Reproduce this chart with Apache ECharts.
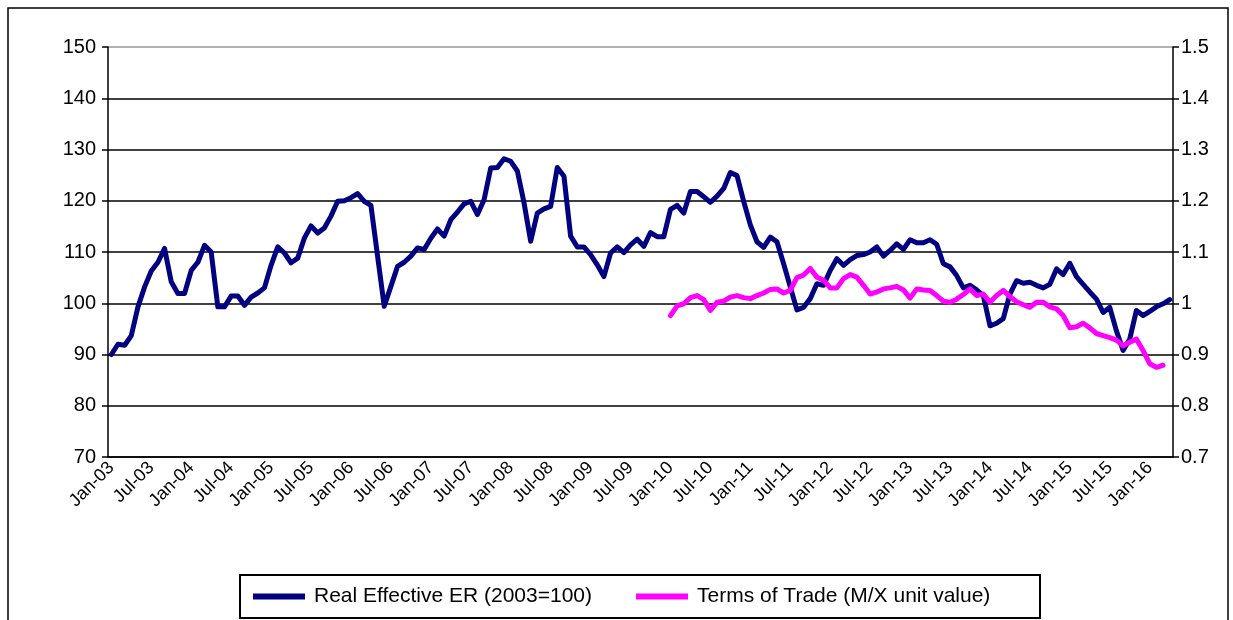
<!DOCTYPE html>
<html>
<head>
<meta charset="utf-8">
<title>REER and Terms of Trade</title>
<script src="https://cdn.jsdelivr.net/npm/echarts@6/dist/echarts.min.js"></script>
<style>
    html, body { margin: 0; padding: 0; background: #fff; }
    #chart { width: 1233px; height: 620px; }
</style>
</head>
<body>
<div id="chart"></div>
<script>
// month labels Jan-03 .. Apr-16
const monthNames = ["Jan", "Feb", "Mar", "Apr", "May", "Jun", "Jul", "Aug", "Sep", "Oct", "Nov", "Dec"];
const categories = [];
for (let y = 3; y <= 16; y++) {
    for (let m = 0; m < 12; m++) {
        if (y === 16 && m > 3) break;
        categories.push(monthNames[m] + "-" + String(y).padStart(2, "0"));
    }
}

// Real Effective ER (2003=100), left axis
const reer = [
    90.0, 92.0, 91.8, 93.7, 99.3, 103.2, 106.3, 108.0, 110.7, 104.2, 101.9, 101.9,
    106.4, 108.0, 111.3, 110.0, 99.3, 99.3, 101.4, 101.4, 99.6, 101.2, 102.0, 103.0,
    107.4, 111.0, 109.8, 107.9, 108.8, 112.7, 115.1, 113.7, 114.7, 117.0, 119.9, 120.0,
    120.6, 121.4, 119.9, 119.1, 109.2, 99.4, 103.3, 107.2, 108.0, 109.2, 110.8, 110.5,
    112.7, 114.5, 113.1, 116.3, 117.8, 119.4, 119.9, 117.3, 120.2, 126.4, 126.5, 128.2,
    127.7, 125.8, 119.6, 112.1, 117.6, 118.4, 118.9, 126.5, 124.8, 113.1, 111.0, 111.0,
    109.5, 107.5, 105.2, 109.8, 111.0, 109.9, 111.4, 112.5, 111.1, 113.8, 113.0, 113.0,
    118.3, 119.1, 117.6, 121.8, 121.8, 120.8, 119.7, 120.9, 122.4, 125.5, 124.9, 119.9,
    115.3, 112.0, 110.9, 112.9, 112.0, 107.7, 103.2, 98.7, 99.2, 100.9, 103.8, 103.5,
    106.4, 108.7, 107.4, 108.5, 109.3, 109.5, 110.0, 111.0, 109.2, 110.3, 111.6, 110.5,
    112.4, 111.8, 111.8, 112.4, 111.5, 107.7, 107.1, 105.4, 103.0, 103.5, 102.6, 101.5,
    95.6, 96.1, 97.0, 101.8, 104.4, 103.9, 104.1, 103.5, 103.0, 103.7, 106.7, 105.6,
    107.8, 105.2, 103.7, 102.2, 100.8, 98.2, 99.2, 94.6, 90.8, 93.0, 98.6, 97.6,
    98.4, 99.3, 99.9, 100.7
];

// Terms of Trade (M/X unit value), right axis, Jan-10 .. Mar-16
const totStart = "Jan-10";
const totValues = [
    0.976, 0.995, 0.999, 1.011, 1.015, 1.007, 0.986, 1.002, 1.004, 1.012, 1.015, 1.011,
    1.009, 1.015, 1.020, 1.027, 1.028, 1.020, 1.025, 1.050, 1.055, 1.068, 1.051, 1.045,
    1.030, 1.030, 1.048, 1.056, 1.051, 1.035, 1.018, 1.022, 1.028, 1.030, 1.033, 1.026,
    1.010, 1.028, 1.026, 1.025, 1.015, 1.004, 1.002, 1.008, 1.017, 1.028, 1.015, 1.018,
    1.002, 1.015, 1.025, 1.013, 1.003, 0.997, 0.992, 1.002, 1.002, 0.993, 0.989, 0.976,
    0.952, 0.954, 0.961, 0.952, 0.941, 0.937, 0.933, 0.928, 0.917, 0.924, 0.930, 0.908,
    0.882, 0.875, 0.879
];
const totOffset = categories.indexOf(totStart);
const tot = categories.map((c, i) => {
    const k = i - totOffset;
    return k >= 0 && k < totValues.length ? totValues[k] : null;
});

const fontFam = "'Liberation Sans', Arial, sans-serif";

let myCharts = echarts.init(document.getElementById("chart"));
myCharts.setOption({
    animation: false,
    backgroundColor: "#fff",
    textStyle: { fontFamily: fontFam },
    grid: {
        left: 108,
        right: 60,
        top: 47,
        bottom: 163,
    },
    graphic: [
        // 外框
        {
            type: "rect",
            shape: { x: 8, y: 8, width: 1220, height: 700 },
            style: { fill: "none", stroke: "#000", lineWidth: 1.5 },
            silent: true,
        },
        // 图例边框
        {
            type: "rect",
            shape: { x: 240, y: 575, width: 800, height: 43 },
            style: { fill: "none", stroke: "#000", lineWidth: 2 },
            silent: true,
        },
    ],
    xAxis: {
        type: "category",
        data: categories,
        boundaryGap: true,
        axisLine: { lineStyle: { color: "#000", width: 1.5 } },
        axisTick: {
            interval: 5,
            length: 5,
            lineStyle: { color: "#000", width: 1.5 },
        },
        axisLabel: {
            interval: 5,
            rotate: 45,
            color: "#000",
            fontSize: 18,
            fontFamily: fontFam,
            margin: 8,
        },
        splitLine: { show: false },
    },
    yAxis: [
        {
            type: "value",
            min: 70,
            max: 150,
            interval: 10,
            axisLine: { show: true, lineStyle: { color: "#000", width: 1.5 } },
            axisTick: { show: true, length: 6, lineStyle: { color: "#000", width: 1.5 } },
            axisLabel: { color: "#000", fontSize: 20, fontFamily: fontFam, margin: 12 },
            splitLine: {
                show: true,
                lineStyle: {
                    //顶部那条是灰色细线
                    color: ["#000", "#000", "#000", "#000", "#000", "#000", "#000", "#000", "#999"],
                    width: 1.6,
                },
            },
        },
        {
            type: "value",
            min: 0.7,
            max: 1.5,
            interval: 0.1,
            position: "right",
            axisLine: { show: true, lineStyle: { color: "#000", width: 1.5 } },
            axisTick: { show: true, length: 6, lineStyle: { color: "#000", width: 1.5 } },
            axisLabel: {
                color: "#000",
                fontSize: 20,
                fontFamily: fontFam,
                margin: 8,
                formatter: (v) => String(+v.toFixed(1)),
            },
            splitLine: { show: false },
        },
    ],
    legend: {
        data: ["Real Effective ER (2003=100)", "Terms of Trade (M/X unit value)"],
        left: 253,
        top: 586,
        padding: 0,
        icon: "rect",
        itemWidth: 52,
        itemHeight: 6,
        itemGap: 44,
        textStyle: { color: "#000", fontSize: 21, fontFamily: fontFam, padding: [0, 0, 0, 4] },
    },
    series: [
        {
            name: "Real Effective ER (2003=100)",
            type: "line",
            yAxisIndex: 0,
            data: reer,
            symbol: "none",
            lineStyle: { color: "#000080", width: 5, join: "round", cap: "round" },
            itemStyle: { color: "#000080" },
        },
        {
            name: "Terms of Trade (M/X unit value)",
            type: "line",
            yAxisIndex: 1,
            data: tot,
            symbol: "none",
            lineStyle: { color: "#FF00FF", width: 5, join: "round", cap: "round" },
            itemStyle: { color: "#FF00FF" },
        },
    ],
});
</script>
</body>
</html>
